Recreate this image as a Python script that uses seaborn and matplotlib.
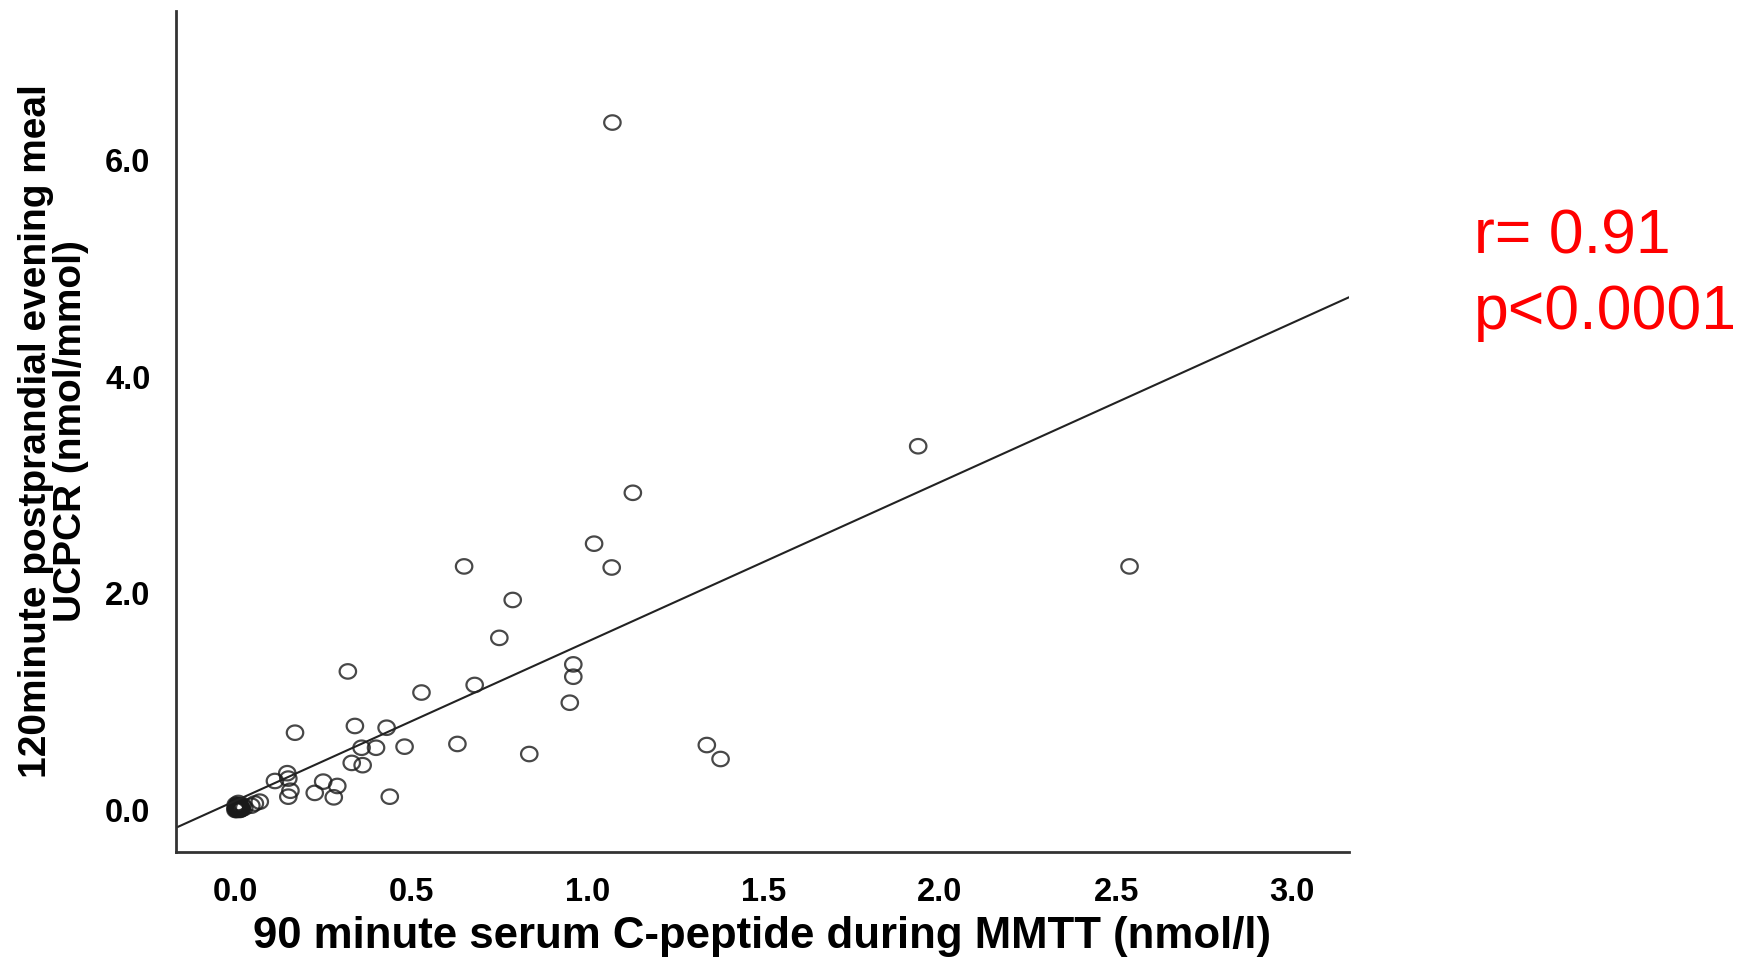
import matplotlib
matplotlib.use("Agg")
import matplotlib.pyplot as plt
import seaborn as sns
import numpy as np
import pandas as pd
from matplotlib.ticker import FormatStrFormatter
from matplotlib.path import Path

# ---- data ----
c_peptide = [1.070, 1.938, 1.128, 1.018, 0.649, 1.068, 2.538, 0.787, 0.749, 0.319,
             0.959, 0.959, 0.679, 0.528, 0.949, 0.169, 0.339, 0.429, 0.630, 1.338,
             1.377, 0.834, 0.480, 0.399, 0.358, 0.330, 0.361, 0.147, 0.150, 0.112,
             0.249, 0.289, 0.225, 0.279, 0.156, 0.150, 0.438, 0.069, 0.055, 0.045,
             # dense cluster of near-zero values (overlapping circles)
             0.000, 0.005, 0.010, 0.015, 0.020, 0.008, 0.025, 0.003,
             0.002, 0.006, 0.012, 0.004, 0.018, 0.001, 0.009, 0.014,
             0.007, 0.011, 0.003, 0.016, 0.005, 0.013, 0.010, 0.000,
             0.008, 0.004]
ucpcr = [6.35, 3.36, 2.93, 2.46, 2.25, 2.24, 2.25, 1.94, 1.59, 1.28,
         1.345, 1.231, 1.155, 1.085, 0.991, 0.714, 0.776, 0.760, 0.610, 0.600,
         0.471, 0.517, 0.585, 0.575, 0.575, 0.435, 0.414, 0.340, 0.290, 0.268,
         0.262, 0.222, 0.158, 0.117, 0.178, 0.123, 0.123, 0.077, 0.060, 0.040,
         0.000, 0.010, 0.030, 0.005, 0.045, 0.065, 0.020, 0.040,
         0.015, 0.025, 0.000, 0.035, 0.010, 0.050, 0.005, 0.030,
         0.020, 0.045, 0.000, 0.015, 0.040, 0.010, 0.025, 0.020,
         0.035, 0.005]
x_ticks = [0.0, 0.5, 1.0, 1.5, 2.0, 2.5, 3.0]
y_ticks = [0.0, 2.0, 4.0, 6.0]
x_label = "90 minute serum C-peptide during MMTT (nmol/l)"
y_label = "120minute postprandial evening meal\nUCPCR (nmol/mmol)"
stat_r = "r= 0.91"
stat_p = "p<0.0001"

df = pd.DataFrame({"x": c_peptide, "y": ucpcr})

sns.set_theme(style="white")
plt.rcParams["font.family"] = ["Liberation Sans", "DejaVu Sans"]
plt.rcParams["text.color"] = "black"
plt.rcParams["axes.labelcolor"] = "black"
plt.rcParams["xtick.color"] = "black"
plt.rcParams["ytick.color"] = "black"

# slightly wide open-ellipse marker, as in the reference
theta = np.linspace(0, 2 * np.pi, 60)
ell = Path(np.column_stack([np.cos(theta), 0.88 * np.sin(theta)]), closed=True)

fig = plt.figure(figsize=(17.42, 9.60), dpi=100)
ax = fig.add_axes([0.1008, 0.1125, 0.6736, 0.876])

ax.set_xlim(-0.17, 3.161)
ax.set_ylim(-0.388, 7.38)

sns.regplot(data=df, x="x", y="y", ax=ax, ci=None, truncate=False,
            marker=ell,
            scatter_kws=dict(s=140, facecolors="none", edgecolors="#1a1a1a",
                             linewidths=1.6),
            line_kws=dict(color="#222222", linewidth=1.5))

ax.set_xlim(-0.17, 3.161)
ax.set_ylim(-0.388, 7.38)
ax.set_xticks(x_ticks)
ax.set_yticks(y_ticks)
ax.xaxis.set_major_formatter(FormatStrFormatter("%.1f"))
ax.yaxis.set_major_formatter(FormatStrFormatter("%.1f"))

for side in ["top", "right"]:
    ax.spines[side].set_visible(False)
for side in ["left", "bottom"]:
    ax.spines[side].set_color("#333333")
    ax.spines[side].set_linewidth(2.0)

ax.tick_params(axis="both", which="major", direction="out", length=11,
               width=1.2, color="#333333", labelsize=23.5, pad=7)
for lab in ax.get_xticklabels() + ax.get_yticklabels():
    lab.set_fontweight("bold")

ax.set_xlabel(x_label, fontsize=31.5, fontweight="bold", labelpad=6)
ax.set_ylabel(y_label, fontsize=28, fontweight="bold", labelpad=12,
              linespacing=0.95)

fig.text(0.846, 0.736, stat_r, color="red", fontsize=45,
         ha="left", va="baseline")
fig.text(0.846, 0.657, stat_p, color="red", fontsize=45,
         ha="left", va="baseline")

fig.savefig("out.png", dpi=100)
